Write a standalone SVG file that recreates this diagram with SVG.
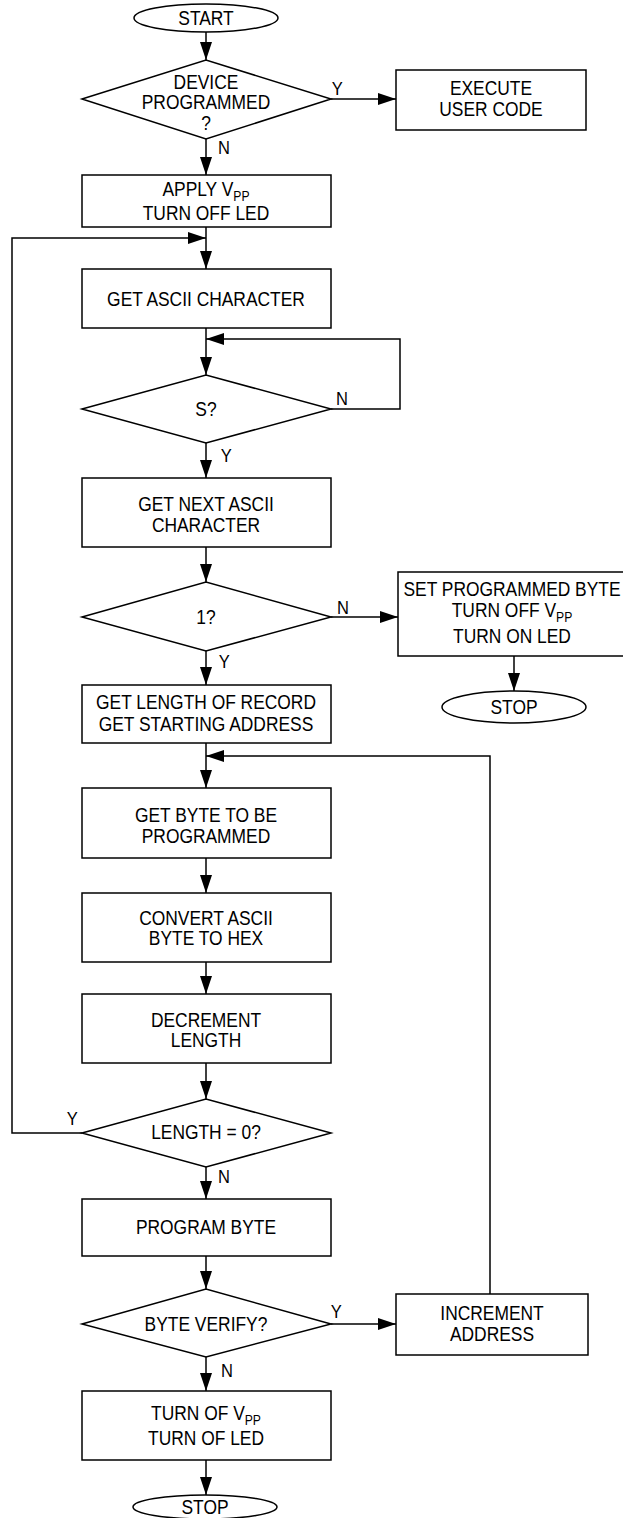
<svg xmlns="http://www.w3.org/2000/svg" width="623" height="1518" viewBox="0 0 623 1518">
  <defs>
    <marker id="arrow" markerUnits="userSpaceOnUse" markerWidth="18" markerHeight="12" refX="18" refY="6" orient="auto">
      <path d="M0,0 L18,6 L0,12 z" fill="#000"/>
    </marker>
    <style>
      .shape { fill: #fff; stroke: #000; stroke-width: 1.5; }
      .wire { fill: none; stroke: #000; stroke-width: 1.5; }
      .arr { marker-end: url(#arrow); }
      text { font-family: "Liberation Sans", Arial, sans-serif; font-size: 20px; fill: #000; text-anchor: middle;
             transform-box: fill-box; transform-origin: center; transform: scaleX(0.87); }
      .lbl { font-size: 19px; text-anchor: start; }
      .sub { font-size: 14px; }
    </style>
  </defs>
  <rect width="623" height="1518" fill="#fff"/>

  <!-- connectors and branch labels -->
  <g id="connectors">
    <path class="wire arr" d="M206,32 V60"/>
    <path class="wire arr" d="M331,99 H396"/>
    <path class="wire arr" d="M206,139 V175"/>
    <path class="wire arr" d="M206,227 V269"/>
    <path class="wire arr" d="M82,1133 H12 V238 H206"/>
    <path class="wire arr" d="M206,328 V375"/>
    <path class="wire arr" d="M331,409 H400 V339 H206"/>
    <path class="wire arr" d="M206,443 V478"/>
    <path class="wire arr" d="M206,547 V582"/>
    <path class="wire arr" d="M331,617 H398"/>
    <path class="wire arr" d="M514,656 V691"/>
    <path class="wire arr" d="M206,651 V685"/>
    <path class="wire arr" d="M206,743 V788"/>
    <path class="wire arr" d="M490,1294 V756 H206"/>
    <path class="wire arr" d="M206,858 V893"/>
    <path class="wire arr" d="M206,962 V994"/>
    <path class="wire arr" d="M206,1063 V1099"/>
    <path class="wire arr" d="M206,1167 V1199"/>
    <path class="wire arr" d="M206,1256 V1289"/>
    <path class="wire arr" d="M331,1324 H396"/>
    <path class="wire arr" d="M206,1357 V1391"/>
    <path class="wire arr" d="M206,1460 V1495"/>

    <text class="lbl" x="331" y="95">Y</text>
    <text class="lbl" x="217" y="154">N</text>
    <text class="lbl" x="335" y="405">N</text>
    <text class="lbl" x="220" y="462">Y</text>
    <text class="lbl" x="336" y="614">N</text>
    <text class="lbl" x="218" y="668">Y</text>
    <text class="lbl" x="66" y="1125">Y</text>
    <text class="lbl" x="217" y="1183">N</text>
    <text class="lbl" x="330" y="1318">Y</text>
    <text class="lbl" x="220" y="1377">N</text>
  </g>

  <g id="start">
    <ellipse class="shape" cx="206" cy="18" rx="72" ry="14"/>
    <text x="206" y="25">START</text>
  </g>

  <g id="device-programmed">
    <polygon class="shape" points="82,99 206,60 331,99 206,139"/>
    <text x="206" y="89">DEVICE</text>
    <text x="206" y="109">PROGRAMMED</text>
    <text x="206" y="130">?</text>
  </g>

  <g id="execute-user-code">
    <rect class="shape" x="396" y="70" width="190" height="60"/>
    <text x="491" y="95">EXECUTE</text>
    <text x="491" y="116">USER CODE</text>
  </g>

  <g id="apply-vpp">
    <rect class="shape" x="82" y="175" width="249" height="52"/>
    <text x="206" y="196">APPLY V<tspan class="sub" dy="5">PP</tspan></text>
    <text x="206" y="220">TURN OFF LED</text>
  </g>

  <g id="get-ascii">
    <rect class="shape" x="82" y="269" width="249" height="59"/>
    <text x="206" y="306">GET ASCII CHARACTER</text>
  </g>

  <g id="is-s">
    <polygon class="shape" points="82,409 206,375 331,409 206,443"/>
    <text x="206" y="416">S?</text>
  </g>

  <g id="get-next-ascii">
    <rect class="shape" x="82" y="478" width="249" height="69"/>
    <text x="206" y="511">GET NEXT ASCII</text>
    <text x="206" y="532">CHARACTER</text>
  </g>

  <g id="is-1">
    <polygon class="shape" points="82,617 206,582 331,617 206,651"/>
    <text x="206" y="624">1?</text>
  </g>

  <g id="set-programmed">
    <rect class="shape" x="398" y="572" width="240" height="84"/>
    <text x="512" y="596">SET PROGRAMMED BYTE</text>
    <text x="512" y="617">TURN OFF V<tspan class="sub" dy="5">PP</tspan></text>
    <text x="512" y="643">TURN ON LED</text>
  </g>

  <g id="stop-1">
    <ellipse class="shape" cx="514" cy="707" rx="72" ry="16"/>
    <text x="514" y="714">STOP</text>
  </g>

  <g id="get-length">
    <rect class="shape" x="82" y="685" width="249" height="58"/>
    <text x="206" y="709">GET LENGTH OF RECORD</text>
    <text x="206" y="731">GET STARTING ADDRESS</text>
  </g>

  <g id="get-byte">
    <rect class="shape" x="82" y="788" width="249" height="70"/>
    <text x="206" y="822">GET BYTE TO BE</text>
    <text x="206" y="843">PROGRAMMED</text>
  </g>

  <g id="convert">
    <rect class="shape" x="82" y="893" width="249" height="69"/>
    <text x="206" y="925">CONVERT ASCII</text>
    <text x="206" y="945">BYTE TO HEX</text>
  </g>

  <g id="decrement">
    <rect class="shape" x="82" y="994" width="249" height="69"/>
    <text x="206" y="1027">DECREMENT</text>
    <text x="206" y="1047">LENGTH</text>
  </g>

  <g id="length-zero">
    <polygon class="shape" points="82,1133 206,1099 331,1133 206,1167"/>
    <text x="206" y="1139">LENGTH = 0?</text>
  </g>

  <g id="program-byte">
    <rect class="shape" x="82" y="1199" width="249" height="57"/>
    <text x="206" y="1234">PROGRAM BYTE</text>
  </g>

  <g id="byte-verify">
    <polygon class="shape" points="82,1324 206,1289 331,1324 206,1357"/>
    <text x="206" y="1331">BYTE VERIFY?</text>
  </g>

  <g id="increment">
    <rect class="shape" x="396" y="1294" width="192" height="61"/>
    <text x="492" y="1320">INCREMENT</text>
    <text x="492" y="1341">ADDRESS</text>
  </g>

  <g id="turn-off">
    <rect class="shape" x="82" y="1391" width="249" height="69"/>
    <text x="206" y="1420">TURN OF V<tspan class="sub" dy="5">PP</tspan></text>
    <text x="206" y="1445">TURN OF LED</text>
  </g>

  <g id="stop-2">
    <ellipse class="shape" cx="205" cy="1507" rx="72" ry="12"/>
    <text x="205" y="1514">STOP</text>
  </g>
</svg>
